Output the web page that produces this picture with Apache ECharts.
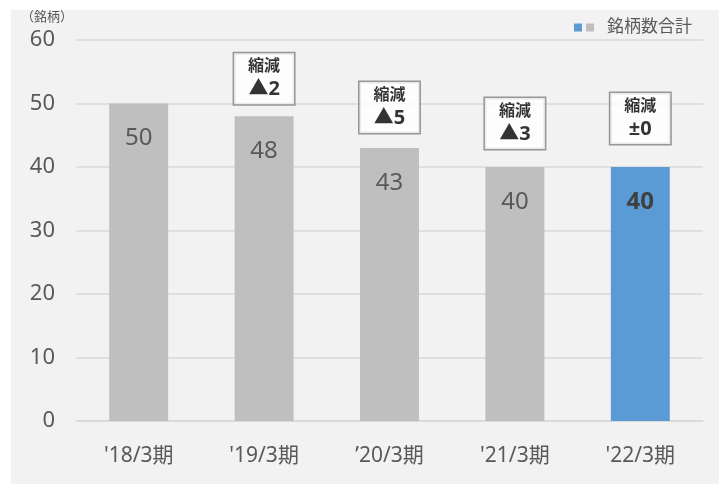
<!DOCTYPE html>
<html>
<head>
<meta charset="utf-8">
<script src="https://cdn.jsdelivr.net/npm/echarts@6/dist/echarts.min.js"></script>
<style>
html,body{margin:0;padding:0;background:#ffffff;}
#c{width:719px;height:484px;}
</style>
</head>
<body>
<div id="c"></div>
<script>
const categories = ["'18/3期", "'19/3期", "’20/3期", "'21/3期", "'22/3期"];
const values = [50, 48, 43, 40, 40];
const changeLabels = [null, "▲2", "▲5", "▲3", "±0"];
const yTicks = [0, 10, 20, 30, 40, 50, 60];
const seriesName = "銘柄数合計";
const unitLabel = "（銘柄）";

const FONT = '"Noto Sans", "Noto Sans CJK JP", sans-serif';
const annDist = [0, 12, 15, 18, 23];
const lastIdx = values.length - 1;

const chart = echarts.init(document.getElementById('c'));
chart.setOption({
  animation: false,
  textStyle: { fontFamily: FONT },
  graphic: [
    { type: 'rect', shape: { x: 11, y: 10, width: 720, height: 480 }, style: { fill: '#f2f2f2' }, z: -100, silent: true },
    { type: 'text', left: 21, top: 11, style: { text: unitLabel, font: '13px ' + FONT, fill: '#595959' }, z: 10 }
  ],
  grid: { left: 76, right: 16, top: 40, bottom: 63 },
  legend: {
    right: 22, top: 14,
    itemWidth: 8, itemHeight: 8, itemGap: 4,
    data: [{ name: '_b', icon: 'rect' }, { name: seriesName, icon: 'rect' }],
    formatter: n => n === '_b' ? '' : n,
    textStyle: { fontSize: 17, color: '#595959', fontFamily: FONT, padding: [0, 0, 0, 8] }
  },
  xAxis: {
    type: 'category',
    data: categories,
    axisLine: { lineStyle: { color: '#d9d9d9', width: 1.5 } },
    axisTick: { show: false },
    axisLabel: { fontSize: 21, color: '#595959', margin: 25, fontFamily: FONT }
  },
  yAxis: {
    type: 'value',
    min: yTicks[0], max: yTicks[yTicks.length - 1], interval: 10,
    axisLine: { show: false },
    axisTick: { show: false },
    splitLine: { lineStyle: { color: '#d9d9d9', width: 1.5 } },
    axisLabel: { fontSize: 22, color: '#595959', margin: 21, fontFamily: FONT }
  },
  series: [
    { name: '_b', type: 'bar', data: [], itemStyle: { color: '#5b9bd5' } },
    {
      name: seriesName,
      type: 'bar',
      barWidth: '47%',
      barGap: '-100%',
      itemStyle: { color: '#bfbfbf' },
      data: values.map((v, i) => i === lastIdx ? {
        value: v,
        itemStyle: { color: '#5b9bd5' },
        label: { fontWeight: 'bold', color: '#404040' }
      } : v),
      label: {
        show: true, position: 'insideTop', distance: 23,
        fontSize: 24, color: '#595959', fontFamily: FONT
      }
    },
    {
      name: 'ann',
      type: 'scatter',
      symbolSize: 0,
      silent: true,
      data: values.map((v, i) => changeLabels[i] == null ? '-' : {
        value: v,
        label: { distance: annDist[i], formatter: '{a|縮減}\n{b|' + changeLabels[i] + '}' }
      }),
      label: {
        show: true, position: 'top',
        backgroundColor: '#ffffff', borderColor: '#808080', borderWidth: 1.5,
        padding: [3, 6], width: 48, align: 'center',
        rich: {
          a: { fontSize: 16, fontWeight: 'bold', color: '#000', lineHeight: 21, align: 'center', fontFamily: FONT },
          b: { fontSize: 20, fontWeight: 'bold', color: '#000', lineHeight: 24, align: 'center', fontFamily: FONT }
        }
      }
    }
  ]
});
</script>
</body>
</html>
